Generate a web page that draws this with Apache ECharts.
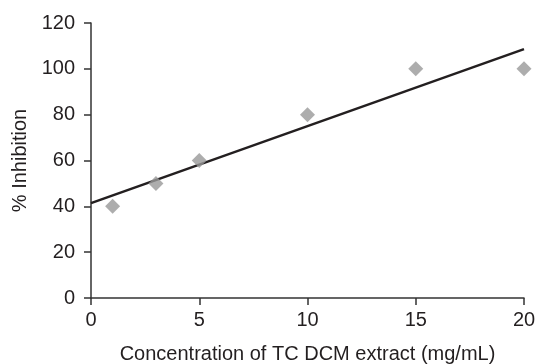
<!DOCTYPE html>
<html>
<head>
<meta charset="utf-8">
<script src="https://cdn.jsdelivr.net/npm/echarts@6/dist/echarts.min.js"></script>
<style>
  html, body { margin: 0; padding: 0; background: #fff; }
  #chart { width: 535px; height: 364px; }
</style>
</head>
<body>
<div id="chart"></div>
<script>
// measured points
const concentration = [1, 3, 5, 10, 15, 20];
const inhibition = [40, 50, 60, 80, 100, 100];
// trend line end points
const trendX = [0, 20];
const trendY = [41.4, 108.6];
const xTicks = [0, 5, 10, 15, 20];
const yTicks = [0, 20, 40, 60, 80, 100, 120];

const myChart = echarts.init(document.getElementById('chart'));
const fontFamily = '"Liberation Sans", Arial, sans-serif';
const axisColor = '#333';
const textColor = '#231f20';

myChart.setOption({
  animation: false,
  grid: { left: 91, right: 11, top: 23, bottom: 66, outerBoundsMode: 'none' },
  xAxis: {
    type: 'value',
    min: xTicks[0],
    max: xTicks[xTicks.length - 1],
    interval: 5,
    name: 'Concentration of TC DCM extract (mg/mL)',
    nameLocation: 'middle',
    nameGap: 46,
    nameTextStyle: { fontFamily, fontSize: 20, color: textColor },
    axisLine: { lineStyle: { color: axisColor, width: 1.5 } },
    axisTick: { show: true, inside: false, length: 7, lineStyle: { color: axisColor, width: 1.5 } },
    axisLabel: { fontFamily, fontSize: 20, color: textColor, margin: 12 },
    splitLine: { show: false }
  },
  yAxis: {
    type: 'value',
    min: yTicks[0],
    max: yTicks[yTicks.length - 1],
    interval: 20,
    name: '% Inhibition',
    nameLocation: 'middle',
    nameGap: 61,
    nameTextStyle: { fontFamily, fontSize: 20, color: textColor },
    axisLine: { show: true, lineStyle: { color: axisColor, width: 1.5 } },
    axisTick: { show: true, inside: false, length: 7, lineStyle: { color: axisColor, width: 1.5 } },
    axisLabel: { fontFamily, fontSize: 20, color: textColor, margin: 16 },
    splitLine: { show: false }
  },
  series: [
    {
      type: 'line',
      data: trendX.map((x, i) => [x, trendY[i]]),
      symbol: 'none',
      lineStyle: { color: '#231f20', width: 2.5 },
      z: 2
    },
    {
      type: 'scatter',
      data: concentration.map((x, i) => [x, inhibition[i]]),
      symbol: 'diamond',
      symbolSize: 15,
      itemStyle: { color: '#999999' },
      z: 3
    }
  ]
});
</script>
</body>
</html>
